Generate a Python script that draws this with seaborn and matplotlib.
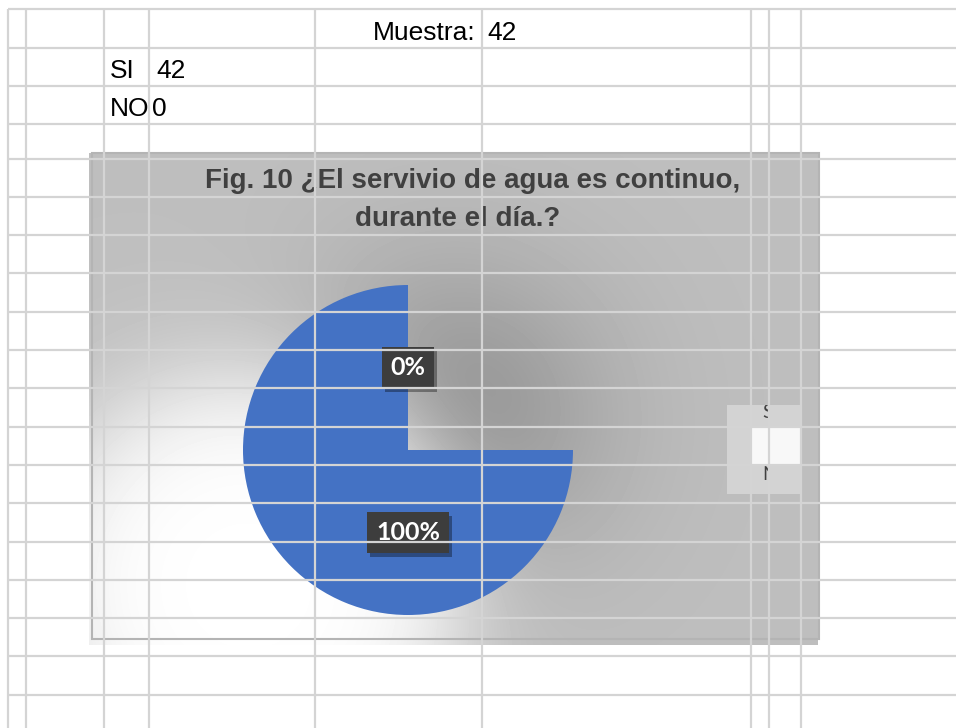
import numpy as np
import matplotlib
matplotlib.use("Agg")
import matplotlib.pyplot as plt
import matplotlib.patches as mpatches
import matplotlib.patheffects as pe
from matplotlib.path import Path
from matplotlib.transforms import Bbox
import seaborn as sns

# datos de la hoja
categorias = ["SI", "NO"]
respuestas = [42, 0]
muestra = 42
titulo = ["Fig. 10 ¿El servivio de agua es continuo,", "durante el día.?"]
colores = ["#4472C4", "#ED7D31"]

sns.set_style("white")
plt.rcParams["font.family"] = ["Liberation Sans", "DejaVu Sans"]

W, H = 956, 728
fig = plt.figure(figsize=(W / 100, H / 100), dpi=100, facecolor="white")


def px_axes(z):
    # ejes en pixeles de la figura, origen arriba a la izquierda
    ax = fig.add_axes([0, 0, 1, 1], zorder=z)
    ax.set_xlim(0, W)
    ax.set_ylim(H, 0)
    ax.axis("off")
    return ax


# fondo del grafico: gris con sombra y brillo difuminados
ax_bg = px_axes(0)
yy, xx = np.mgrid[0:H, 0:W] + 0.5
sombra = np.exp(-((xx - 450) ** 2 + (yy - 420) ** 2) / (2 * 110.0 ** 2))
img = 190 - 45 * sombra
d_glow = np.hypot(xx - 250, yy - 585)
brillo = 1 / (1 + np.exp(-(210 - d_glow) / 35.0))
img = img + (255 - img) * brillo
ax_bg.imshow(img[153:645, 89:818], cmap="gray", vmin=0, vmax=255,
             extent=(89, 818, 645, 153), interpolation="nearest", aspect="auto")
ax_bg.set_xlim(0, W)
ax_bg.set_ylim(H, 0)
ax_bg.add_patch(mpatches.Rectangle((92, 153), 727, 486, fill=False,
                                   ec="#b4b4b4", lw=1.5))

tfont = ["Liberation Sans Narrow", "Liberation Sans", "DejaVu Sans"]
ax_bg.text(473, 188, titulo[0], ha="center", va="baseline", fontsize=20,
           fontweight="bold", color="#404040", family=tfont)
ax_bg.text(458, 226, titulo[1], ha="center", va="baseline", fontsize=20,
           fontweight="bold", color="#404040", family=tfont)

# leyenda recortada
ax_bg.add_patch(mpatches.Rectangle((727, 405), 73, 89, fc="#d3d3d3", ec="none"))
ax_bg.add_patch(mpatches.Rectangle((752, 428), 48, 36, fc="#f8f8f8", ec="none"))
clip_leg = Bbox.from_extents(727, H - 494, 768, H - 405)
for lab, ypos in zip(categorias, [412, 474]):
    t = ax_bg.text(762, ypos, lab, ha="left", va="center", fontsize=14,
                   color="#404040", family=["Lato", "DejaVu Sans"])
    t.set_clip_box(clip_leg)
    t.set_clip_on(True)

# pastel
R, cx, cy = 165, 408, 450
ax_pie = fig.add_axes([(cx - R) / W, (H - cy - R) / H, 2 * R / W, 2 * R / H], zorder=1)
wedges, texts, autotexts = ax_pie.pie(
    respuestas, colors=colores, startangle=90, counterclock=False,
    autopct="%1.0f%%", pctdistance=0.5, wedgeprops=dict(linewidth=0),
    textprops=dict(color="white", fontsize=18, fontweight="bold",
                   family=["Lato", "DejaVu Sans"]))
ax_pie.set_xlim(-1, 1)
ax_pie.set_ylim(-1, 1)
ax_pie.axis("off")

# el cuadrante superior derecho no se pinta en la captura
recorte = Path([(-2, -2), (2, -2), (2, 0), (0, 0), (0, 2), (-2, 2), (-2, -2)],
               closed=True)
for w in wedges:
    w.set_clip_on(True)
    w.set_clip_path(recorte, ax_pie.transData)

for at in autotexts:
    at.set_bbox(dict(boxstyle="square,pad=0.35", fc="#3d3d3d", ec="none"))
    at.get_bbox_patch().set_path_effects(
        [pe.SimplePatchShadow(offset=(2, -3), shadow_rgbFace="black", alpha=0.35),
         pe.Normal()])

# cuadricula de la hoja y celdas
ax_top = px_axes(2)
filas = [9, 48, 86, 124, 159, 197, 235, 273, 312, 350, 388, 427, 465,
         503, 542, 580, 618, 656, 695]
cols = [8, 26, 104, 149, 315, 482, 751, 769, 801]
ax_top.hlines(filas, 8, W, color="#d4d4d4", lw=1.6)
ax_top.vlines(cols, 9, H, color="#d4d4d4", lw=1.6)

cfont = dict(fontsize=19, color="black", va="baseline")
ax_top.text(476, 40, "Muestra:", ha="right", **cfont)
ax_top.text(487, 40, str(muestra), ha="left", **cfont)
for lab, val, yb in zip(categorias, respuestas, [78, 116]):
    ax_top.text(110, yb, lab, ha="left", **cfont)
    ax_top.text(152 if lab == "NO" else 156, yb, str(val), ha="left", **cfont)

fig.savefig("out.png", dpi=100, facecolor="white")
